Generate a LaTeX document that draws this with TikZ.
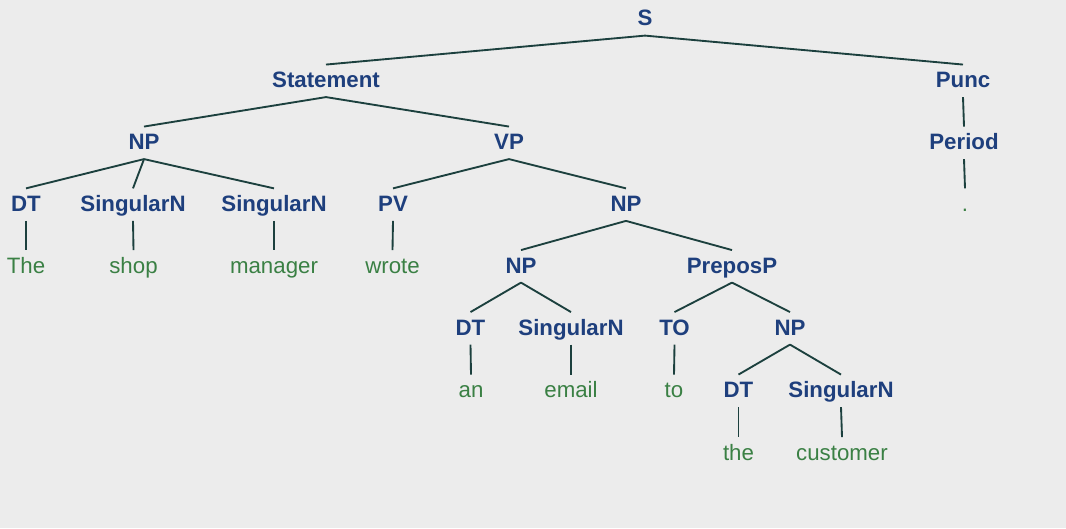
\documentclass[tikz,border=0pt]{standalone}
\usepackage{fontspec}
\setmainfont{Liberation Sans}
\definecolor{bgc}{RGB}{236,236,236}
\definecolor{tagc}{RGB}{30,63,125}
\definecolor{wordc}{RGB}{58,128,68}
\definecolor{edgec}{RGB}{28,64,62}
\tikzset{
  lab/.style={inner sep=0pt, text height=17pt, text depth=7pt, anchor=base, font=\fontsize{16.7}{20}\selectfont},
  tag/.style={lab, text=tagc, font=\fontsize{16.7}{20}\selectfont\bfseries},
  word/.style={lab, text=wordc},
  edge/.style={draw=edgec, line width=1.4pt}
}
\begin{document}
\begin{tikzpicture}[x=0.75pt, y=-0.75pt]
\fill[bgc] (0,0) rectangle (1066,528);
\useasboundingbox (0,0) rectangle (1066,528);
% rows (baselines)
\def\rA{26}\def\rB{87.5}\def\rC{149.5}\def\rD{211.3}
\def\rE{273}\def\rF{335}\def\rG{397.5}\def\rH{460}
\node[tag] (S) at (645,\rA) {S};
\node[tag] (stmt) at (326,\rB) {Statement};
\node[tag] (punc) at (963,\rB) {Punc};
\node[tag] (np1) at (144,\rC) {NP};
\node[tag] (vp) at (509,\rC) {VP};
\node[tag] (period) at (964,\rC) {Period};
\node[tag] (dt1) at (26,\rD) {DT};
\node[tag] (sn1) at (133,\rD) {SingularN};
\node[tag] (sn2) at (274,\rD) {SingularN};
\node[tag] (pv) at (393,\rD) {PV};
\node[tag] (np2) at (626,\rD) {NP};
\node[word] (dot) at (965,\rD) {.};
\node[word] (wthe) at (26,\rE) {The};
\node[word] (wshop) at (133.5,\rE) {shop};
\node[word] (wmanager) at (274,\rE) {manager};
\node[word] (wwrote) at (392.5,\rE) {wrote};
\node[tag] (np3) at (521,\rE) {NP};
\node[tag] (prep) at (732,\rE) {PreposP};
\node[tag] (dt2) at (470.5,\rF) {DT};
\node[tag] (sn3) at (571,\rF) {SingularN};
\node[tag] (to) at (674.5,\rF) {TO};
\node[tag] (np4) at (790,\rF) {NP};
\node[word] (wan) at (471,\rG) {an};
\node[word] (wemail) at (571,\rG) {email};
\node[word] (wto) at (674,\rG) {to};
\node[tag] (dt3) at (738.5,\rG) {DT};
\node[tag] (sn4) at (841,\rG) {SingularN};
\node[word] (wthe2) at (738.5,\rH) {the};
\node[word] (wcustomer) at (842,\rH) {customer};
\foreach \a/\b in {S/stmt,S/punc,stmt/np1,stmt/vp,punc/period,np1/dt1,np1/sn1,np1/sn2,
  vp/pv,vp/np2,period/dot,dt1/wthe,sn1/wshop,sn2/wmanager,pv/wwrote,np2/np3,np2/prep,
  np3/dt2,np3/sn3,prep/to,prep/np4,dt2/wan,sn3/wemail,to/wto,np4/dt3,np4/sn4,
  dt3/wthe2,sn4/wcustomer}
  \draw[edge] (\a.south) -- (\b.north);
\end{tikzpicture}
\end{document}
